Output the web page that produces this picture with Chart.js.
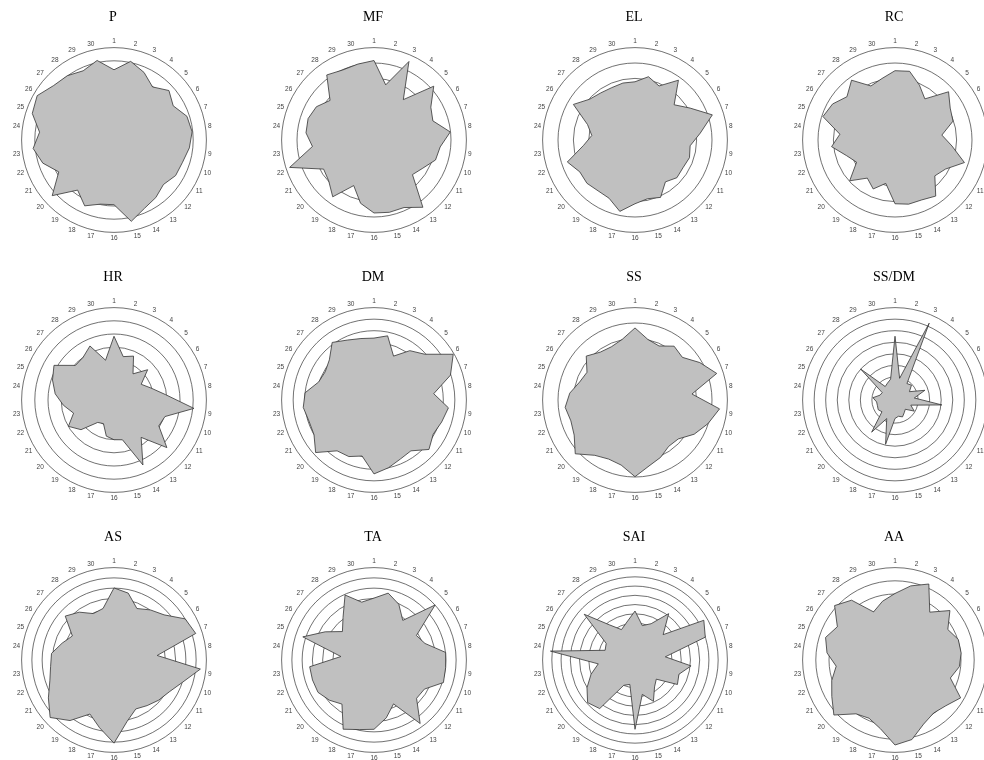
<!DOCTYPE html>
<html>
<head>
<meta charset="utf-8">
<script src="https://cdn.jsdelivr.net/npm/chart.js@4.4.0/dist/chart.umd.min.js"></script>
<style>
  body { margin: 0; background: #fff; width: 984px; height: 760px; overflow: hidden; position: relative; }
  canvas { position: absolute; }
</style>
</head>
<body>
<script>
// axis labels, clockwise from the top
const axisLabels = ['1','2','3','4','5','6','7','8','9','10','11','12','13','14','15',
  '16','17','18','19','20','21','22','23','24','25','26','27','28','29','30'];

const titles = ['P', 'MF', 'EL', 'RC', 'HR', 'DM', 'SS', 'SS/DM', 'AS', 'TA', 'SAI', 'AA'];

// number of circles on each plot (outer circle = 100)
const ringCounts = [7, 6, 6, 6, 7, 8, 6, 8, 9, 9, 10, 7];

// values, % of the outer circle
const pVals   = [76,87,80,71,80,74,83,85,82,78,77,72,77,81,90,70,71,78,67,90,69,81,88,81,93,96,88,86,82,88];
const mfVals  = [86,61,93,54,87,71,67,83,72,70,61,56,90,80,80,79,70,54,76,66,63,96,67,74,75,72,64,87,83,84];
const elVals  = [63,70,64,80,57,69,88,71,60,62,60,61,56,68,65,69,79,69,68,70,69,77,56,47,54,77,66,63,62,63];
const rcVals  = [75,76,65,55,78,69,66,51,62,79,63,58,75,71,71,69,48,58,51,66,48,55,69,60,82,78,70,80,64,68];
const hrVals  = [69,48,52,35,49,34,42,56,87,58,56,77,50,77,44,43,40,28,30,48,57,46,55,64,70,75,56,57,64,44];
const dmVals  = [67,71,52,66,74,99,87,65,81,77,74,80,68,70,75,80,62,67,68,85,75,74,77,75,63,61,65,77,71,68];
const ssVals  = [78,67,64,72,69,81,93,62,92,83,74,63,62,68,73,83,72,70,74,87,76,73,76,71,63,60,71,64,63,67];
const ssdmVals = [69,24,91,22,24,18,34,21,51,18,24,15,17,20,18,20,49,22,43,19,21,20,20,24,17,16,50,18,20,23];
const asVals  = [78,74,61,67,73,89,93,47,94,78,69,65,61,58,68,90,75,64,81,93,82,73,69,68,59,52,71,64,55,57];
const taVals  = [67,74,66,53,89,53,58,78,78,79,63,62,85,52,64,75,77,82,59,65,70,70,70,36,81,61,46,57,77,64];
const saiVals = [53,38,43,62,41,86,80,33,61,50,53,31,36,49,38,75,27,30,65,69,60,50,40,92,34,36,74,47,36,42];
const aaVals  = [72,82,90,64,80,66,72,72,70,63,82,74,71,76,88,92,76,69,72,89,79,72,64,74,79,72,88,80,57,65];

const allVals = [pVals, mfVals, elVals, rcVals, hrVals, dmVals, ssVals, ssdmVals, asVals, taVals, saiVals, aaVals];

// plot centres on the page
const colX = [113, 373, 634, 894];
const rowY = [141, 401, 661];
const W = 208, H = 239;

for (let i = 0; i < titles.length; i++) {
  let cx = colX[i % 4];
  let cy = rowY[Math.floor(i / 4)];
  let cv = document.createElement('canvas');
  cv.width = W;
  cv.height = H;
  cv.style.left = (cx - W / 2) + 'px';
  cv.style.top = Math.round(cy - 136) + 'px';
  document.body.appendChild(cv);

  new Chart(cv.getContext('2d'), {
    type: 'radar',
    data: {
      labels: axisLabels,
      datasets: [{
        data: allVals[i],
        fill: true,
        backgroundColor: '#c0c0c0',
        borderColor: '#333',
        borderWidth: 0.8,
        pointRadius: 0,
        tension: 0
      }]
    },
    options: {
      responsive: false,
      animation: false,
      devicePixelRatio: 1,
      layout: { padding: 0 },
      plugins: {
        legend: { display: false },
        tooltip: { enabled: false },
        title: {
          display: true,
          text: titles[i],
          color: '#000',
          font: { family: 'Liberation Serif', size: 14, weight: 'normal' },
          padding: { top: 4, bottom: 12 }
        }
      },
      scales: {
        r: {
          min: 0,
          max: 100,
          ticks: { display: false, count: ringCounts[i] + 1 },
          grid: { circular: true, color: '#333', lineWidth: 0.7 },
          angleLines: { display: false },
          pointLabels: {
            color: '#444',
            padding: 2,
            font: { family: 'Liberation Sans', size: 6.5 }
          }
        }
      }
    }
  });
}
</script>
</body>
</html>
